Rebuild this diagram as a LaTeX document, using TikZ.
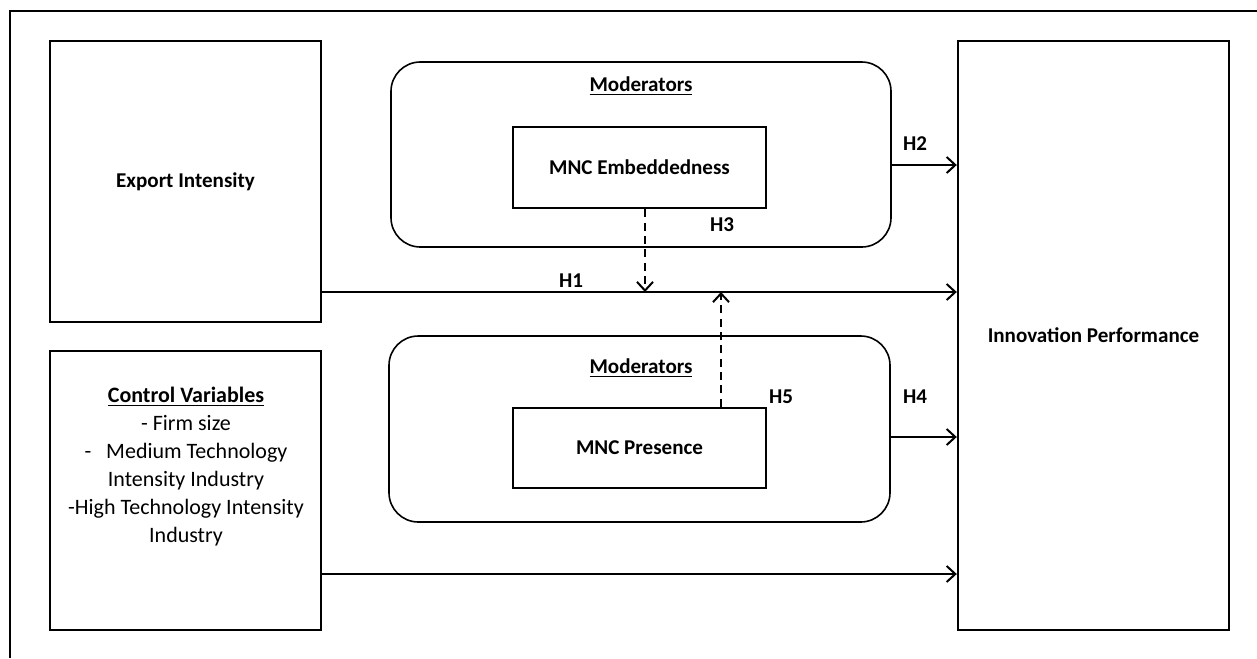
\documentclass[tikz,border=0pt]{standalone}
\usepackage{fontspec}
\setmainfont{Carlito}
\usetikzlibrary{arrows.meta}

\newcommand{\figfont}{\fontsize{16.5}{21}\selectfont}
\newcommand{\boldfig}{\fontsize{15.8}{19}\selectfont\bfseries}
\tikzset{every picture/.style={line width=1.5pt}}
\tikzset{
  varbox/.style={draw, line width=1.8pt, inner sep=0pt, font=\boldfig, align=center},
  modbox/.style={draw, line width=1.2pt, rounded corners=22pt, inner sep=0pt},
  hlabel/.style={inner sep=0.75pt, font=\boldfig},
  arr/.style={-{Straight Barb[length=6.5pt,width=12pt,line width=1.5pt]}},
  dasharr/.style={arr, line width=1.6pt, dash pattern={on 6pt off 4pt}}
}

\begin{document}
\begin{tikzpicture}[x=0.75pt,y=0.75pt,yscale=-1,xscale=1,font=\figfont]
\useasboundingbox (0,0) rectangle (1257,658);

% Frame
\draw [line width=1.6pt] (1257,11) -- (10,11) -- (10,658);

% Variables
\node [varbox, minimum width=203.25pt, minimum height=210.75pt] (export) at (185.5,181.5) {\raisebox{-2pt}{Export Intensity}};
\node [varbox, minimum width=203.25pt, minimum height=209.25pt] (control) at (185.5,490.5) {};
\node [varbox, minimum width=203.25pt, minimum height=441.75pt] (innov) at (1093.5,335.5) {\raisebox{-1pt}{Innovation Performance}};

% Moderators
\node [modbox, minimum width=375pt, minimum height=138.75pt] (mod1) at (641,154.5) {};
\node [modbox, minimum width=375.75pt, minimum height=139.5pt] (mod2) at (639.5,429) {};
\node [varbox, minimum width=189.75pt, minimum height=60.75pt] (embed) at (639.5,167.5) {\raisebox{-1pt}{MNC Embeddedness}};
\node [varbox, minimum width=189.75pt, minimum height=60pt] (presence) at (639.5,448) {\raisebox{-1pt}{MNC Presence}};

% Text Node
\node [hlabel] (modlab1) at (641,86) {\underline{Moderators}};
% Text Node
\node [hlabel] (modlab2) at (641,368) {\underline{Moderators}};
% Text Node
\node [inner sep=0.75pt, align=center] (ctrltext) at (186,467)
  {\textbf{\underline{Control Variables}}\\- Firm size\\-\ \ \ Medium Technology\\Intensity Industry\\-High Technology Intensity\\Industry};

% Arrows
\coordinate (y1) at (0,292);
\coordinate (y2) at (0,165);
\coordinate (y4) at (0,437);
\coordinate (yc) at (0,574);
\coordinate (m1) at (645,292);
\coordinate (m2) at (721,292);
\draw [arr] (export.east |- y1) -- (innov.west |- y1);
\draw [arr] (mod1.east |- y2) -- (innov.west |- y2);
\draw [arr] (mod2.east |- y4) -- (innov.west |- y4);
\draw [arr] (control.east |- yc) -- (innov.west |- yc);
\draw [dasharr] (embed.south -| m1) -- (m1);
\draw [dasharr] (presence.north -| m2) -- (m2);

% Text Node
\node [hlabel] (h1) at (571,281) {H1};
% Text Node
\node [hlabel] (h2) at (915,144) {H2};
% Text Node
\node [hlabel] (h3) at (722,225) {H3};
% Text Node
\node [hlabel] (h4) at (915,397) {H4};
% Text Node
\node [hlabel] (h5) at (781,397) {H5};

\end{tikzpicture}
\end{document}
